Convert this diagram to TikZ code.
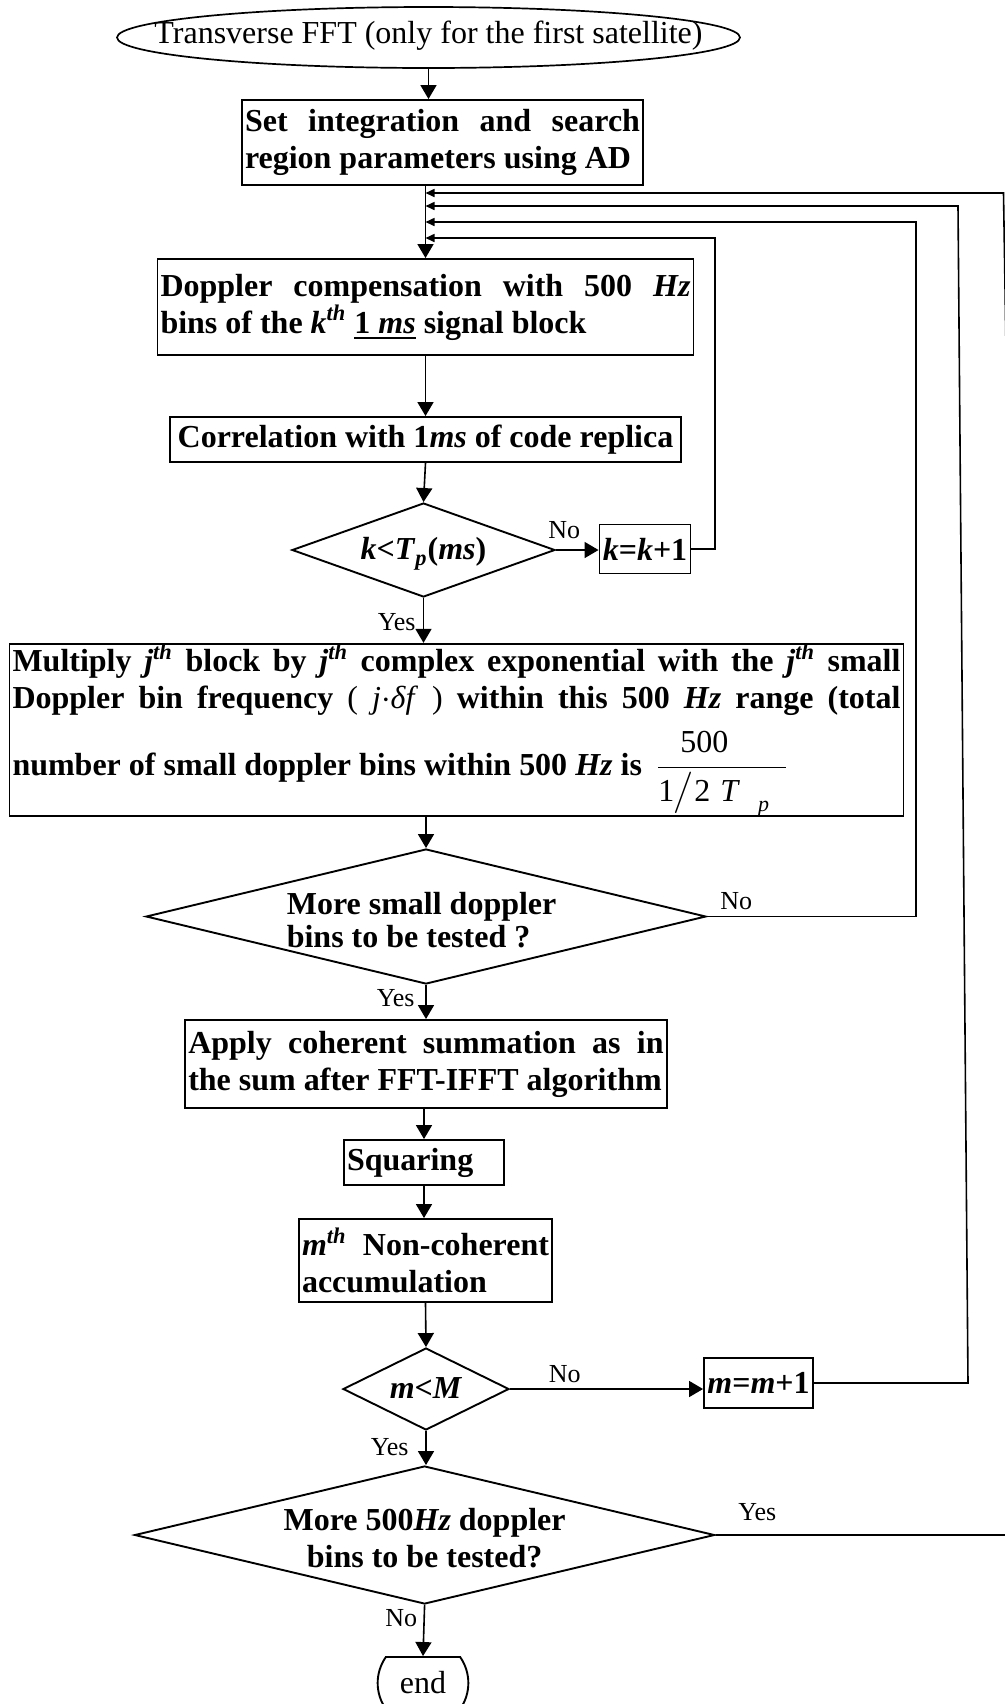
\documentclass[tikz,border=0pt]{standalone}
\usepackage{fontspec}
\setmainfont{Liberation Serif}
\usepackage{amsmath}
\usetikzlibrary{shapes.geometric,shapes.misc,arrows.meta}
\newcommand{\zc}[3][c]{\makebox[0pt]{\raisebox{#2}[0pt][0pt]{\begin{tabular}{@{}#1@{}}#3\end{tabular}}}}
\newcommand{\thsup}{\textsuperscript{\textit{th}}}
\newcommand{\ulk}[1]{\setbox0\hbox{#1}\rlap{\rule[-3.2pt]{\wd0}{1.3pt}}\box0\relax}
\begin{document}
\begin{tikzpicture}[x=0.5pt,y=-0.5pt,
  mainfont/.style={font=\fontsize{16}{18.5}\selectfont\bfseries},
  box/.style={draw,line width=0.95pt,rectangle,inner xsep=1.5pt,inner ysep=0pt,mainfont},
  jbox/.style={box,align=justify},
  dia/.style={draw,line width=0.95pt,diamond,inner sep=0pt,mainfont},
  lbl/.style={inner sep=0pt,font=\fontsize{13}{15}\selectfont},
  conn/.style={line width=0.8pt},
  arr/.style={conn,-{Triangle[length=7pt,width=8pt]}},
  sarr/.style={conn,-{Triangle[length=4.5pt,width=4pt]}},
]
\useasboundingbox (0,0) rectangle (1005,1704);

% start ellipse (outline drawn as a path through its anchors)
\node[ellipse,minimum width=311.5pt,minimum height=30.5pt,inner sep=0pt,font=\fontsize{16}{18.5}\selectfont] (start) at (428.5,37.5) {\makebox[0pt]{Transverse FFT (only for the first satellite)}\rule[-7.7pt]{0pt}{21.6pt}};
\draw[line width=0.85pt] (117,37.5) .. controls (117,20.65) and (256.5,7) .. (428.5,7)
  .. controls (600.5,7) and (740,20.65) .. (740,37.5)
  .. controls (740,54.35) and (600.5,68) .. (428.5,68)
  .. controls (256.5,68) and (117,54.35) .. (117,37.5) -- cycle;

\node[jbox,minimum width=200.5pt,minimum height=42.5pt,text width=197.5pt] (set) at (442.5,142.5) {Set integration and search\linebreak region parameters using AD};

\node[jbox,minimum width=268pt,minimum height=48pt,text width=265pt] (dop) at (425.5,307) {Doppler compensation with 500 \textit{Hz}\linebreak bins of the \textit{k}\thsup{} \ulk{1 \textit{ms}} signal block\par\vspace{5pt}};

\node[box,inner xsep=0.5pt,minimum width=255.5pt,minimum height=22.5pt] (corr) at (425.5,439.5) {Correlation with 1\textit{ms} of code replica};

\node[dia,minimum width=131.5pt,minimum height=47pt] (kdia) at (423.5,550) {\zc{-5.6pt}{\textit{k}<\textit{T}\textsubscript{\textit{p}}(\textit{ms})}};

\node[box,inner sep=0pt,minimum width=45.5pt,minimum height=24.5pt] (kbox) at (645,549) {\textit{k}=\textit{k}+1};

\node[jbox,minimum width=447pt,minimum height=86pt,text width=444pt] (mult) at (456.5,730) {Multiply \textit{j}\thsup{} block by \textit{j}\thsup{} complex exponential with the \textit{j}\thsup{} small\linebreak Doppler bin frequency {\normalfont( \textit{j}$\cdot$\textit{δf} )} within this 500 \textit{Hz} range (total\linebreak \rule{0pt}{29pt}number of small doppler bins within 500 \textit{Hz} is\hspace{3pt} $\dfrac{\makebox[64pt][l]{\normalfont\hspace{11pt}500}}{\makebox[64pt][l]{\normalfont 1\hspace{-0.5pt}$\big/$\hspace{0.5pt}2\hspace{5pt}\textit{T}\hspace{9pt}\raisebox{-5pt}{\fontsize{11}{11}\selectfont\textit{p}}}}$};

\node[dia,minimum width=280pt,minimum height=67.5pt] (sdia) at (426,916.5) {\renewcommand\arraystretch{0.89}\makebox[0pt]{\hspace{-4.4pt}\zc[l]{-8.5pt}{More small doppler\\bins to be tested ?}}};

\node[jbox,minimum width=240.7pt,minimum height=44pt,text width=237.7pt] (apply) at (426,1064) {Apply coherent summation as in\linebreak the sum after FFT-IFFT algorithm};

\node[box,minimum width=80pt,minimum height=22.5pt,text width=77pt,align=left] (sq) at (424,1162.5) {Squaring};

\node[jbox,minimum width=126.5pt,minimum height=41.5pt,text width=123.5pt] (acc) at (425.5,1260.5) {\textit{m}\thsup{} Non-coherent\linebreak accumulation};

\node[dia,minimum width=83pt,minimum height=41pt] (mdia) at (426,1389) {\zc{-5.6pt}{\textit{m}<\textit{M}}};

\node[box,inner sep=0pt,minimum width=54.5pt,minimum height=25pt] (mbox) at (758.5,1383) {\textit{m}=\textit{m}+1};

\node[dia,minimum width=290pt,minimum height=69pt] (bdia) at (424.6,1535) {\zc{-7.7pt}{More 500\textit{Hz} doppler\\bins to be tested?}};

\node[draw,rounded rectangle,rounded rectangle arc length=70,line width=0.95pt,inner sep=0pt,minimum width=37.5pt,minimum height=26pt,font=\fontsize{16}{18.5}\selectfont] (end) at (423,1683) {end};

% labels
\node[lbl,anchor=base west] (lno1) at (548,538) {No};
\node[lbl,anchor=base east] (lyes1) at (416,630) {Yes};
\node[lbl,anchor=base west] (lno2) at (720,909) {No};
\node[lbl,anchor=base east] (lyes2) at (415,1006.7) {Yes};
\node[lbl,anchor=base west] (lno3) at (548.5,1382.7) {No};
\node[lbl,anchor=base east] (lyes3) at (409,1455) {Yes};
\node[lbl,anchor=base west] (lyes4) at (738,1520) {Yes};
\node[lbl,anchor=base east] (lno4) at (417.5,1626.7) {No};

% junction and corner coordinates
\coordinate (j1) at (425.5,193);
\coordinate (j2) at (425.5,206);
\coordinate (j3) at (425.5,222);
\coordinate (j4) at (425.5,238);
\coordinate (kc) at (715,238);
\coordinate (sc) at (916,222);
\coordinate (mc) at (958,206);
\coordinate (mbot) at (968,1383);
\coordinate (oc) at (1003.5,193);
\coordinate (obot) at (1025,1535);

% main flow
\draw[arr] (start.south) -- (start.south |- set.north);
\draw[arr] (set.south -| dop.north) -- (dop.north);
\draw[arr] (dop.south) -- (corr.north);
\draw[arr] (corr.south) -- (kdia.north);
\draw[arr] (kdia.east) -- (kdia.east -| kbox.west);
\draw[arr] (kdia.south) -- (kdia.south |- mult.north);
\draw[arr] (mult.south -| sdia.north) -- (sdia.north);
\draw[arr] (sdia.south) -- (sdia.south |- apply.north);
\draw[arr] (apply.south -| sq.north) -- (sq.north);
\draw[arr] (sq.south) -- (sq.south |- acc.north);
\draw[arr] (acc.south) -- (mdia.north);
\draw[arr] (mdia.east) -- (mdia.east -| mbox.west);
\draw[arr] (mdia.south) -- (mdia.south |- bdia.north);
\draw[arr] (bdia.south) -- (end.north);

% feedback loops
\draw[sarr] (kbox.east) -| (kc) -- (j4);
\draw[sarr] (sdia.east) -| (sc) -- (j3);
\draw[sarr] (mbox.east) -- (mbot) -- (mc) -- (j2);
\draw[sarr] (bdia.east) -- (obot) -- (oc) -- (j1);
\end{tikzpicture}
\end{document}
